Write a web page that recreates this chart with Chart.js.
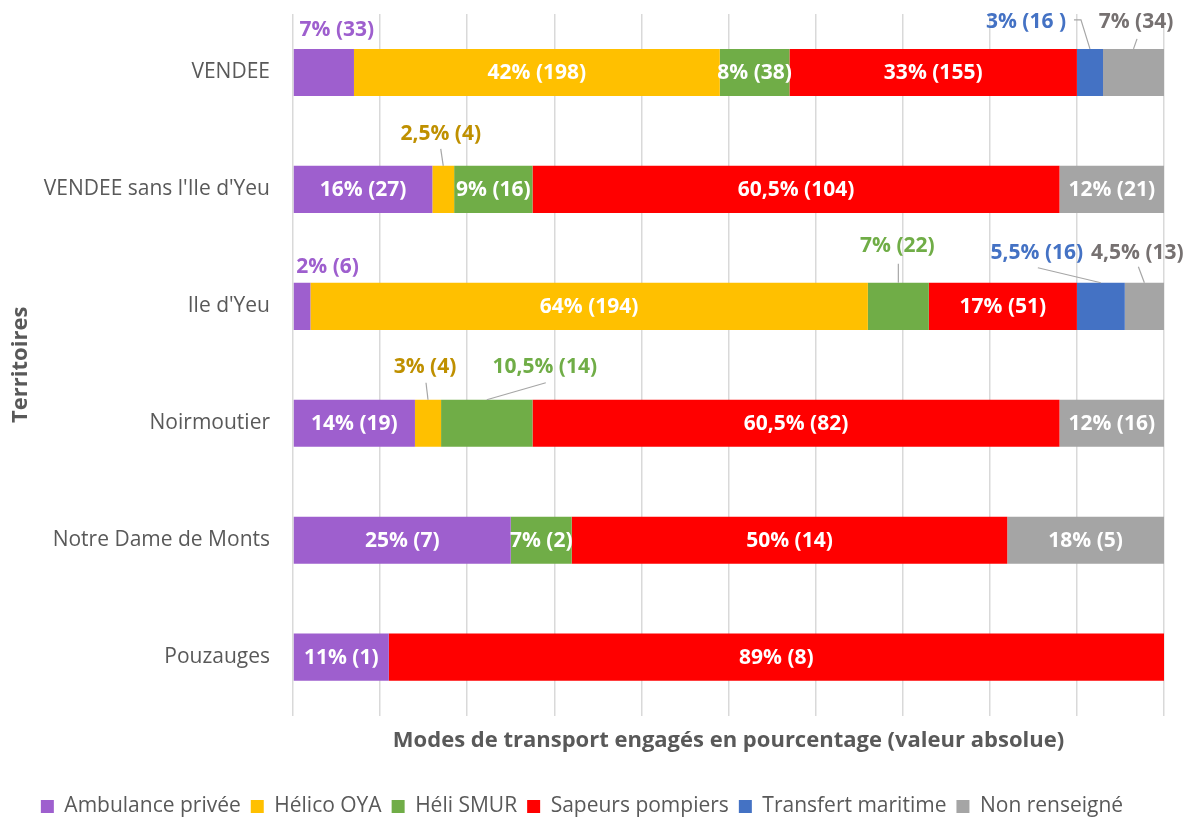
<!DOCTYPE html>
<html><head><meta charset="utf-8">
<script src="https://cdn.jsdelivr.net/npm/chart.js@4.4.1/dist/chart.umd.min.js"></script>
<style>html,body{margin:0;padding:0;background:#fff;}</style>
</head><body>
<canvas id="c" width="1193" height="820"></canvas>
<script>
// ---- DATA ----
const categories = ['VENDEE', "VENDEE sans l'Ile d'Yeu", "Ile d'Yeu", 'Noirmoutier', 'Notre Dame de Monts', 'Pouzauges'];
const seriesNames = ['Ambulance privée', 'Hélico OYA', 'Héli SMUR', 'Sapeurs pompiers', 'Transfert maritime', 'Non renseigné'];

const ambulancePct = [7, 16, 2, 14, 25, 11];
const ambulanceN   = ['33', '27', '6', '19', '7', '1'];
const helicoPct    = [42, 2.5, 64, 3, null, null];
const helicoN      = ['198', '4', '194', '4', null, null];
const smurPct      = [8, 9, 7, 10.5, 7, null];
const smurN        = ['38', '16', '22', '14', '2', null];
const pompiersPct  = [33, 60.5, 17, 60.5, 50, 89];
const pompiersN    = ['155', '104', '51', '82', '14', '8'];
const maritimePct  = [3, null, 5.5, null, null, null];
const maritimeN    = ['16 ', null, '16', null, null, null];
const nonRensPct   = [7, 12, 4.5, 12, 18, null];
const nonRensN     = ['34', '21', '13', '16', '5', null];

// ---- STYLE ----
const barColors   = ['#9E5FCE', '#FFC000', '#70AD47', '#FF0000', '#4472C4', '#A5A5A5'];
const outColors   = ['#9E5FCE', '#BF9000', '#70AD47', '#FF0000', '#4472C4', '#767171'];
const textGray = '#595959';

// label placements outside bars: key "dataset,index" -> offset from segment-center / bar-top
const outside = {
  '0,0': {dx: 13, dy: -19},
  '4,0': {dx: -64, dy: -27, line: [[48, -2], [55, -2]]},
  '5,0': {dx: 2.5, dy: -27, line: [[1, 17]]},
  '1,1': {dx: -2.5, dy: -32, line: [[0, 15]]},
  '0,2': {dx: 25.5, dy: -16},
  '2,2': {dx: -1, dy: -37, line: [[1, 18]]},
  '4,2': {dx: -64, dy: -30, line: [[1, 15]]},
  '5,2': {dx: -7, dy: -30, line: [[1, 14]]},
  '1,3': {dx: -3, dy: -33, line: [[1, 16]]},
  '2,3': {dx: 58, dy: -33, line: [[1, 16]]}
};

const pctList = [ambulancePct, helicoPct, smurPct, pompiersPct, maritimePct, nonRensPct];
const cntList = [ambulanceN, helicoN, smurN, pompiersN, maritimeN, nonRensN];

const datasets = seriesNames.map((name, i) => ({
  label: name,
  data: pctList[i],
  counts: cntList[i],
  backgroundColor: barColors[i],
  borderWidth: 0,
  barPercentage: 0.403,
  categoryPercentage: 1
}));

function fmt(v) { return String(v).replace('.', ','); }

const labelPlugin = {
  id: 'segLabels',
  afterDatasetsDraw(chart) {
    const ctx = chart.ctx;
    ctx.save();
    ctx.font = 'bold 21px "Open Sans"';
    ctx.textAlign = 'center';
    ctx.textBaseline = 'middle';
    chart.data.datasets.forEach((ds, di) => {
      const meta = chart.getDatasetMeta(di);
      if (meta.hidden) return;
      meta.data.forEach((bar, j) => {
        const v = ds.data[j];
        if (v == null) return;
        const text = fmt(v) + '% (' + ds.counts[j] + ')';
        const cx = (bar.x + bar.base) / 2;
        const top = bar.y - bar.height / 2;
        const o = outside[di + ',' + j];
        if (o) {
          const lx = cx + o.dx, ly = top + o.dy;
          if (o.line) {
            ctx.strokeStyle = '#A6A6A6';
            ctx.lineWidth = 1.2;
            ctx.beginPath();
            o.line.forEach((p, k) => {
              if (k === 0) ctx.moveTo(lx + p[0], ly + p[1]);
              else ctx.lineTo(lx + p[0], ly + p[1]);
            });
            ctx.lineTo(cx, top);
            ctx.stroke();
          }
          ctx.fillStyle = outColors[di];
          ctx.fillText(text, lx, ly);
        } else {
          ctx.fillStyle = '#FFFFFF';
          ctx.fillText(text, cx, bar.y + 1);
        }
      });
    });
    ctx.restore();
  }
};

new Chart(document.getElementById('c'), {
  type: 'bar',
  data: { labels: categories, datasets },
  plugins: [labelPlugin],
  options: {
    indexAxis: 'y',
    responsive: false,
    devicePixelRatio: 1,
    animation: false,
    layout: { padding: { top: 14, right: 29, bottom: -7, left: 0 } },
    plugins: {
      tooltip: { enabled: false },
      legend: {
        position: 'bottom',
        labels: {
          boxWidth: 13, boxHeight: 13, padding: 10,
          color: textGray,
          font: { family: '"Open Sans"', size: 21 }
        }
      }
    },
    scales: {
      x: {
        stacked: true, min: 0, max: 100,
        ticks: { display: false, stepSize: 10 },
        grid: { color: '#D9D9D9', lineWidth: 1.5, drawTicks: false },
        border: { display: false },
        title: {
          display: true,
          text: 'Modes de transport engagés en pourcentage (valeur absolue)',
          color: textGray,
          font: { family: '"Open Sans"', size: 22, weight: 'bold' },
          padding: { top: 12, bottom: 32 }
        }
      },
      y: {
        stacked: true,
        afterFit(scale) { scale.width = 293; scale.paddingTop = 0; scale.paddingBottom = 0; },
        ticks: { color: textGray, font: { family: '"Open Sans"', size: 21 }, padding: 23 },
        grid: { display: false, drawTicks: false },
        border: { display: false },
        title: {
          display: true, text: 'Territoires', color: textGray,
          font: { family: '"Open Sans"', size: 22, weight: 'bold' },
          padding: { top: 8, bottom: 0 }
        }
      }
    }
  }
});
</script>
</body></html>
